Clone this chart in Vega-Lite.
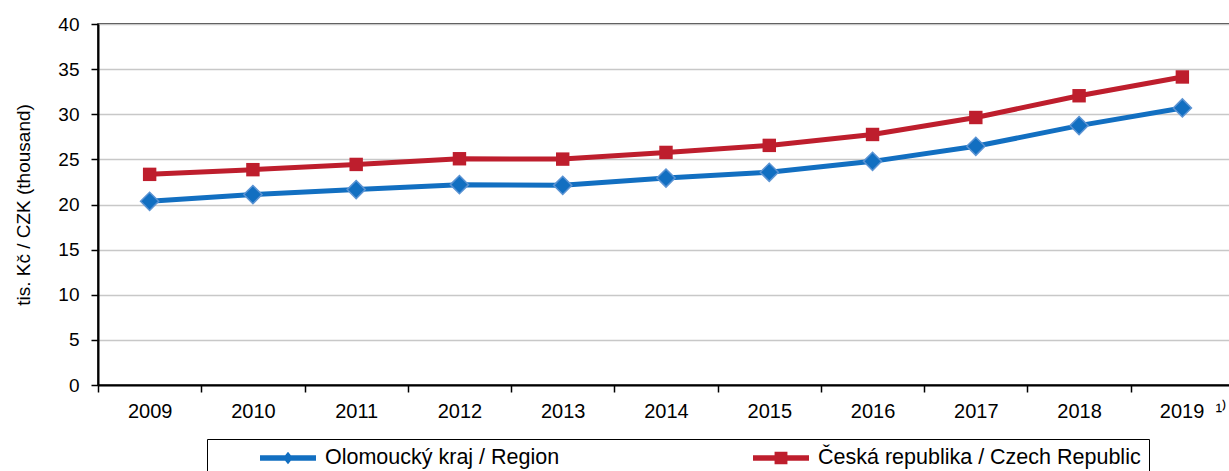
{
  "$schema": "https://vega.github.io/schema/vega-lite/v6.json",
  "autosize": {"type": "none"},
  "padding": {"left": 98, "top": 24, "right": 0, "bottom": 86},
  "width": 1136,
  "height": 361,
  "background": "white",
  "config": {
    "view": {"stroke": "black", "strokeWidth": 1.5},
    "font": "Liberation Sans",
    "axis": {"labelFont": "Liberation Sans", "titleFont": "Liberation Sans", "labelColor": "black", "titleColor": "black", "domainColor": "black", "tickColor": "black"},
    "legend": {
      "title": null, "orient": "none", "legendX": 109, "legendY": 415,
      "direction": "horizontal", "columns": 2, "padding": 8,
      "strokeColor": "black", "fillColor": "white",
      "clipHeight": 22, "symbolSize": 3136, "symbolOffset": 45, "labelOffset": 9,
      "columnPadding": 148, "labelFont": "Liberation Sans", "labelFontSize": 21.5,
      "labelColor": "black", "labelLimit": 1000, "symbolStrokeWidth": 0
    }
  },
  "datasets": {
    "wages": [
      {"year": "2009", "series": "Olomoucký kraj / Region", "wage": 20.35},
      {"year": "2010", "series": "Olomoucký kraj / Region", "wage": 21.1},
      {"year": "2011", "series": "Olomoucký kraj / Region", "wage": 21.65},
      {"year": "2012", "series": "Olomoucký kraj / Region", "wage": 22.2},
      {"year": "2013", "series": "Olomoucký kraj / Region", "wage": 22.12},
      {"year": "2014", "series": "Olomoucký kraj / Region", "wage": 22.93},
      {"year": "2015", "series": "Olomoucký kraj / Region", "wage": 23.57},
      {"year": "2016", "series": "Olomoucký kraj / Region", "wage": 24.78},
      {"year": "2017", "series": "Olomoucký kraj / Region", "wage": 26.45},
      {"year": "2018", "series": "Olomoucký kraj / Region", "wage": 28.74},
      {"year": "2019", "series": "Olomoucký kraj / Region", "wage": 30.7},
      {"year": "2009", "series": "Česká republika / Czech Republic", "wage": 23.34},
      {"year": "2010", "series": "Česká republika / Czech Republic", "wage": 23.86},
      {"year": "2011", "series": "Česká republika / Czech Republic", "wage": 24.44},
      {"year": "2012", "series": "Česká republika / Czech Republic", "wage": 25.07},
      {"year": "2013", "series": "Česká republika / Czech Republic", "wage": 25.03},
      {"year": "2014", "series": "Česká republika / Czech Republic", "wage": 25.77},
      {"year": "2015", "series": "Česká republika / Czech Republic", "wage": 26.55},
      {"year": "2016", "series": "Česká republika / Czech Republic", "wage": 27.76},
      {"year": "2017", "series": "Česká republika / Czech Republic", "wage": 29.64},
      {"year": "2018", "series": "Česká republika / Czech Republic", "wage": 32.05},
      {"year": "2019", "series": "Česká republika / Czech Republic", "wage": 34.13}
    ]
  },
  "data": {"name": "wages"},
  "encoding": {
    "x": {
      "field": "year", "type": "ordinal",
      "scale": {"paddingInner": 0, "paddingOuter": 0},
      "axis": {
        "title": null, "labelAngle": 0, "labelFontSize": 20, "tickBand": "extent",
        "tickSize": 7, "tickWidth": 1.5, "domainWidth": 2, "labelPadding": 9,
        "labelAlign": {"condition": {"test": "datum.value == '2019'", "value": "left"}, "value": "center"},
        "labelOffset": {"condition": {"test": "datum.value == '2019'", "value": -23}, "value": 0},
        "labelExpr": "datum.value == '2019' ? '2019\u00a0\u00a0¹⁾' : datum.label"
      }
    },
    "y": {
      "field": "wage", "type": "quantitative",
      "scale": {"domain": [0, 40], "nice": false, "zero": true},
      "axis": {
        "title": "tis. Kč / CZK (thousand)", "titleFontSize": 19, "titleFontWeight": "normal",
        "titlePadding": 24, "values": [0, 5, 10, 15, 20, 25, 30, 35, 40],
        "labelFontSize": 19, "tickSize": 7, "tickWidth": 1.5, "labelPadding": 12,
        "domainWidth": 2, "grid": true, "gridColor": "#c8c8c8", "gridWidth": 1.5
      }
    },
    "color": {
      "field": "series", "type": "nominal",
      "scale": {"domain": ["Olomoucký kraj / Region", "Česká republika / Czech Republic"], "range": ["#126fc1", "#be1e2d"]}
    }
  },
  "layer": [
    {
      "transform": [{"filter": "datum.wage < 0"}],
      "mark": {"type": "point", "filled": true, "size": 3136, "opacity": 1},
      "encoding": {
        "shape": {
          "field": "series", "type": "nominal",
          "scale": {
            "domain": ["Olomoucký kraj / Region", "Česká republika / Czech Republic"],
            "range": [
              "M-1,-0.1H1V0.1H-1Z M0,-0.22L0.18,0L0,0.22L-0.18,0Z",
              "M-1,-0.1H1V0.1H-1Z M-0.23,-0.22H0.23V0.22H-0.23Z"
            ]
          }
        }
      }
    },
    {
      "mark": {"type": "line", "strokeWidth": 5}
    },
    {
      "transform": [{"filter": "datum.series == 'Olomoucký kraj / Region'"}],
      "mark": {"type": "point", "shape": "diamond", "filled": true, "size": 330, "opacity": 1, "stroke": "#5b93d3", "strokeWidth": 1.5}
    },
    {
      "transform": [{"filter": "datum.series == 'Česká republika / Czech Republic'"}],
      "mark": {"type": "point", "shape": "square", "filled": true, "size": 180, "opacity": 1}
    }
  ]
}
